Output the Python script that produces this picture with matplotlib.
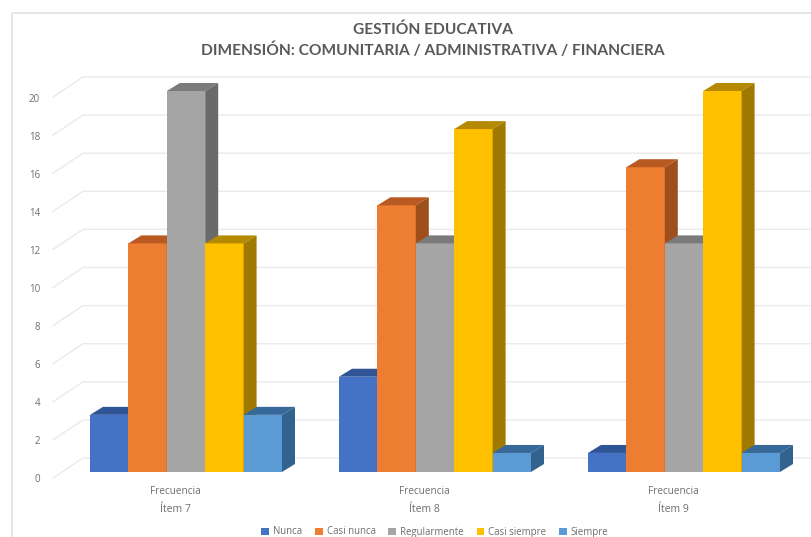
"""Gestion educativa chart, 3D-looking columns drawn on a flat axes."""
import matplotlib.pyplot as plt
import matplotlib
from matplotlib.patches import Polygon, Patch

matplotlib.use("Agg")

plt.rcParams["font.family"] = ["Lato", "DejaVu Sans"]

# Data
items = ["Ítem 7", "Ítem 8", "Ítem 9"]
series = ["Nunca", "Casi nunca", "Regularmente", "Casi siempre", "Siempre"]
nunca = [3, 5, 1]
casi_nunca = [12, 14, 16]
regularmente = [20, 12, 12]
casi_siempre = [12, 18, 20]
siempre = [3, 1, 1]
y_ticks = [0, 2, 4, 6, 8, 10, 12, 14, 16, 18, 20]

values = [nunca, casi_nunca, regularmente, casi_siempre, siempre]

# front, top, side colours per series
FRONT = ["#4472C4", "#ED7D31", "#A5A5A5", "#FFC000", "#5B9BD5"]
TOP = ["#2F5597", "#B85A22", "#7B7B7B", "#B58A00", "#36689A"]
SIDE = ["#335A9C", "#9E4F1C", "#6A6A6A", "#A07A00", "#33628F"]
TEXT = "#595959"
SMALL_TEXT = "#6E6E6E"
GRID = "#EAEAEA"
SMALL_FONT = ["Open Sans", "DejaVu Sans"]

# one x unit = distance between groups (249 px), one y unit = 19.05 px
UNIT_X = 249.0
UNIT_Y = 19.05
BAR_W = 38.4 / UNIT_X
DEPTH_X = 13 / UNIT_X
DEPTH_Y = 8 / UNIT_Y
GROUP_START = (90 - 175) / UNIT_X
WALL_Y = 14 / UNIT_Y


def px(x):
    return (x - 175) / UNIT_X


def py(y):
    return (472 - y) / UNIT_Y


def make_chart():
    fig = plt.figure(figsize=(8.11, 5.37), dpi=100)
    ax = fig.add_axes([0, 0, 1, 1])
    ax.set_xlim(px(0), px(811))
    ax.set_ylim(py(537), py(0))
    ax.axis("off")

    # chart frame
    ax.plot([px(12), px(12), px(811)], [py(537), py(13), py(13)],
            color="#E0E0E0", linewidth=1.1, zorder=1)

    # walls: back gridlines plus the slanted floor/side lines
    for t in y_ticks:
        back = t + WALL_Y
        ax.plot([px(53), px(83), px(811)], [t - 6 / UNIT_Y, back, back],
                color=GRID, linewidth=1.0, zorder=1)
        ax.text(px(40), t - 8 / UNIT_Y, str(t), ha="right", va="center",
                fontsize=7, color=SMALL_TEXT, family=SMALL_FONT)

    # bars, left to right so the next front covers the previous side
    z = 2
    for g in range(len(items)):
        for s in range(len(series)):
            v = values[s][g]
            x0 = g + GROUP_START + s * BAR_W
            x1 = x0 + BAR_W
            ax.bar(x0, v, width=BAR_W, align="edge", color=FRONT[s], linewidth=0, zorder=z)
            ax.add_patch(Polygon([(x0, v), (x1, v), (x1 + DEPTH_X, v + DEPTH_Y), (x0 + DEPTH_X, v + DEPTH_Y)],
                                 closed=True, facecolor=TOP[s], linewidth=0, zorder=z))
            ax.add_patch(Polygon([(x1, 0), (x1 + DEPTH_X, DEPTH_Y), (x1 + DEPTH_X, v + DEPTH_Y), (x1, v)],
                                 closed=True, facecolor=SIDE[s], linewidth=0, zorder=z))
            z += 1

    # category labels, two levels
    for g, item in enumerate(items):
        ax.text(g, py(492), "Frecuencia", ha="center", va="center",
                fontsize=7.2, color=SMALL_TEXT, family=SMALL_FONT)
        ax.text(g, py(510), item, ha="center", va="center",
                fontsize=7.6, color=SMALL_TEXT, family=SMALL_FONT)

    # title
    ax.text(px(433), py(30), "GESTIÓN EDUCATIVA", ha="center", va="center",
            fontsize=11.2, fontweight="bold", color=TEXT)
    ax.text(px(433), py(50), "DIMENSIÓN: COMUNITARIA / ADMINISTRATIVA / FINANCIERA",
            ha="center", va="center", fontsize=11.2, fontweight="bold", color=TEXT)

    # legend
    handles = [Patch(facecolor=c, label=n) for n, c in zip(series, FRONT)]
    ax.legend(handles=handles, loc="center", bbox_to_anchor=(435 / 811, 1 - 532 / 537),
              ncol=5, frameon=False, labelcolor=SMALL_TEXT, handlelength=0.8, handleheight=0.8,
              handletextpad=0.45, columnspacing=1.3, borderpad=0, borderaxespad=0,
              prop={"family": SMALL_FONT, "size": 6.9})

    fig.savefig("out.png", dpi=100)
    plt.close(fig)


if __name__ == "__main__":
    make_chart()
